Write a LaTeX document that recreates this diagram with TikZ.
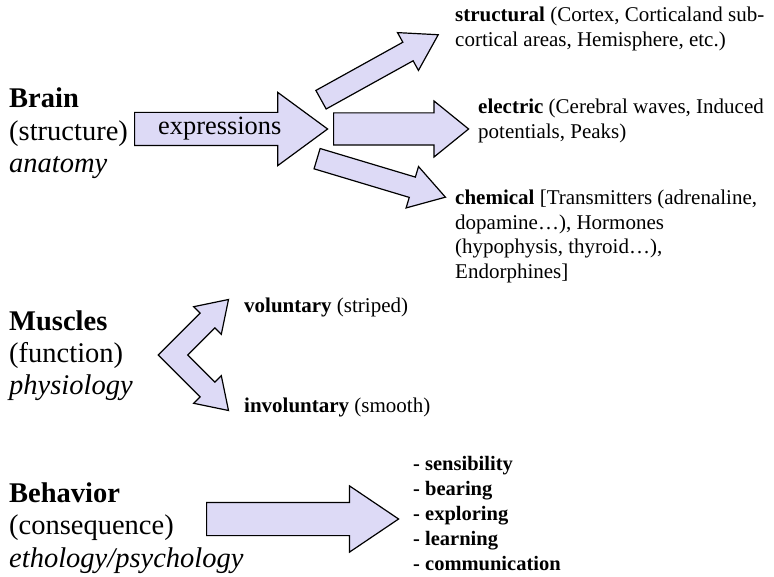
\documentclass[tikz,border=0pt]{standalone}
\usepackage{fontspec}
\setmainfont{Liberation Serif}
\usetikzlibrary{shapes.arrows}
\definecolor{arrowfill}{RGB}{221,218,246}
\tikzset{
  blockarrow/.style={single arrow, draw=black, fill=arrowfill, line width=1.2pt,
    anchor=tail, inner xsep=0pt, single arrow head indent=0pt},
  bigtext/.style={font=\fontsize{28.5}{32.5}\selectfont, align=left, anchor=base west, inner sep=0pt},
  smalltext/.style={font=\fontsize{21}{24.5}\selectfont, align=left, anchor=base west, inner sep=0pt}
}

\begin{document}
\begin{tikzpicture}[x=1pt,y=-1pt]
  \useasboundingbox (0,0) rectangle (774,577);
  \node[bigtext] (brain) at (9,173) {\textbf{Brain}\\(structure)\\\textit{anatomy}};
  \node[bigtext] (muscles) at (9,395) {\textbf{Muscles}\\(function)\\\textit{physiology}};
  \node[bigtext] (behavior) at (9,567) {\textbf{Behavior}\\(consequence)\\\textit{ethology/psychology}};

  \node[blockarrow, minimum height=193pt, inner xsep=8pt, inner ysep=0pt, text height=22pt, text depth=10pt,
    single arrow head extend=20pt, single arrow tip angle=72.6, font=\fontsize{26.4}{30}\selectfont] (exprArrow) at (134,129) {expressions};
  \node[blockarrow, rotate=29, minimum height=134pt, inner ysep=10pt, single arrow head extend=11pt, single arrow tip angle=64] (structArrow) at (320.5,100) {};
  \node[blockarrow, minimum height=135pt, inner ysep=15.5pt, single arrow head extend=12pt, single arrow tip angle=78] (elecArrow) at (333,129) {};
  \node[blockarrow, rotate=-16.7, minimum height=134pt, inner ysep=10pt, single arrow head extend=11pt, single arrow tip angle=64] (chemArrow) at (316.5,158.5) {};
  \node[blockarrow, minimum height=192pt, inner ysep=16pt, single arrow head extend=16.5pt, single arrow tip angle=68] (behavArrow) at (206,519) {};

  \draw[line width=1.2pt, fill=arrowfill] (158.2,355) -- (200.1,313.1) -- (193.7,306.7) -- (228.5,299.5) -- (221.3,334.3)
    -- (214.9,327.9) -- (187.8,355) -- (214.9,382.1) -- (221.3,375.7) -- (228.5,410.5) -- (193.7,403.3) -- (200.1,396.9) -- cycle;

  \node[smalltext] (structural) at (455,46.5) {\textbf{structural} (Cortex, Corticaland sub-\\cortical areas, Hemisphere, etc.)};
  \node[smalltext] (electric) at (478,138.5) {\textbf{electric} (Cerebral waves, Induced\\potentials, Peaks)};
  \node[smalltext] (chemical) at (455,278.5) {\textbf{chemical} [Transmitters (adrenaline,\\dopamine…), Hormones\\(hypophysis, thyroid…),\\Endorphines]};
  \node[smalltext] (voluntary) at (244,313) {\textbf{voluntary} (striped)};
  \node[smalltext] (involuntary) at (244,412) {\textbf{involuntary} (smooth)};
  \node[smalltext, font=\fontsize{20.5}{25}\selectfont\bfseries] (skills) at (413,570) {- sensibility\\- bearing\\- exploring\\- learning\\- communication};
\end{tikzpicture}
\end{document}
